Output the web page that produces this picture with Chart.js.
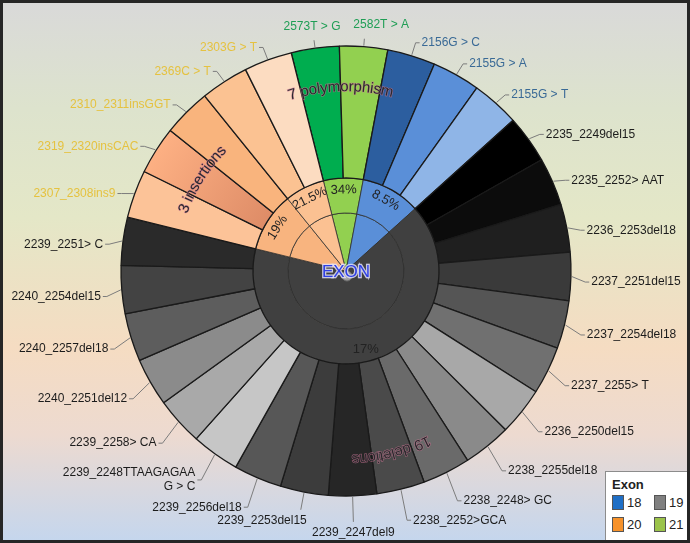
<!DOCTYPE html>
<html>
<head>
<meta charset="utf-8">
<script src="https://cdn.jsdelivr.net/npm/chart.js@4.4.1/dist/chart.umd.min.js"></script>
<style>
  html, body { margin: 0; padding: 0; }
  #wrap {
    position: relative; width: 690px; height: 543px; overflow: hidden;
    font-family: 'Liberation Sans', Arial, sans-serif;
    background: linear-gradient(to bottom, #d9d9d9 0%, #dde3cd 20%, #e4e7c7 40%, #f5dcc2 64%, #eddad0 80%, #c4d6ee 100%);
  }
  #chart { position: absolute; left: 0; top: 0; }
  #frame { position: absolute; left: 0; top: 0; right: 0; bottom: 0; border: 3px solid #262626; pointer-events: none; }
  .legend {
    position: absolute; left: 605px; top: 471px; width: 84px; height: 72px;
    background: #fff; border: 1px solid #8c8c8c; box-sizing: border-box;
    padding: 5px 0 0 6px; font-size: 13px; color: #222;
  }
  .legend .title { font-weight: bold; font-size: 13px; margin-bottom: 3px; }
  .legend .grid { display: grid; grid-template-columns: 13px 25px 13px 18px; column-gap: 2px; row-gap: 7px; align-items: center; }
  .legend .sw { width: 12px; height: 15px; border: 1px solid #555; box-sizing: border-box; }
</style>
</head>
<body>
<div id="wrap">
  <canvas id="chart" width="690" height="543"></canvas>
  <div class="legend"><div class="title">Exon</div><div class="grid" id="legendGrid"></div></div>
  <div id="frame"></div>
</div>
<script>
'use strict';

// ---- data ----
const MUTATIONS = [
  '2573T > G', '2582T > A', '2156G > C', '2155G > A', '2155G > T',
  '2235_2249del15', '2235_2252> AAT', '2236_2253del18', '2237_2251del15', '2237_2254del18',
  '2237_2255> T', '2236_2250del15', '2238_2255del18', '2238_2248> GC', '2238_2252>GCA',
  '2239_2247del9', '2239_2253del15', '2239_2256del18', '2239_2248TTAAGAGAA\nG > C', '2239_2258> CA',
  '2240_2251del12', '2240_2257del18', '2240_2254del15', '2239_2251> C',
  '2307_2308ins9', '2319_2320insCAC', '2310_2311insGGT', '2369C > T', '2303G > T',
];
const MUTATION_EXON = [
  21, 21, 18, 18, 18,
  19, 19, 19, 19, 19, 19, 19, 19, 19, 19, 19, 19, 19, 19, 19, 19, 19, 19, 19,
  20, 20, 20, 20, 20,
];
const MUTATION_COUNT = [
  1, 1, 1, 1, 1,
  1, 1, 1, 1, 1, 1, 1, 1, 1, 1, 1, 1, 1, 1, 1, 1, 1, 1, 1,
  1, 1, 1, 1, 1,
];

const GROUPS = ['Exon 21', 'Exon 18', 'Exon 19', 'Exon 20 insertions', 'Exon 20 polymorphism'];
const GROUP_SIZE = [2, 3, 19, 3, 2];
const GROUP_PCT = ['34%', '8.5%', '17%', '19%', '21.5%'];

const CLASS_LABELS = ['7 polymorphism', '19 deletions', '3 insertions'];
const CLASS_FIRST = [0, 5, 24];
const CLASS_LAST = [1, 23, 26];

const LEGEND_EXONS = ['18', '19', '20', '21'];

// ---- style ----
const MUTATION_COLORS = [
  '#00ad4f', '#92d050', '#2c5e9f', '#5a8fd8', '#8fb5e7',
  '#000000', '#0c0c0c', '#1f1f1f', '#3a3a3a', '#555555', '#707070', '#a8a8a8', '#8a8a8a',
  '#6a6a6a', '#4a4a4a', '#262626', '#3c3c3c', '#575757', '#c6c6c6', '#a9a9a9', '#8b8b8b',
  '#5d5d5d', '#434343', '#2a2a2a',
  '#fcc398', null, '#f9b47d', '#fbc292', '#fcdcc1',
];
const GROUP_COLORS = ['#92d050', '#5a8fd8', '#404040', '#f8b47f', '#fbc192'];
const LABEL_COLORS = { 18: '#3a6a96', 19: '#1c1c1c', 20: '#e5c240', 21: '#1f9e55' };
const LEGEND_COLORS = { 18: '#1f6fc6', 19: '#808080', 20: '#f7922a', 21: '#9bc34a' };
const CLASS_RADIUS = [184, 188, 173];
const FONT = '"Liberation Sans", Arial, sans-serif';

function mutationColor(c) {
  const col = MUTATION_COLORS[c.dataIndex];
  if (col) return col;
  const area = c.chart.chartArea;
  if (!area) return '#f4a479';
  const cx = (area.left + area.right) / 2;
  const cy = (area.top + area.bottom) / 2;
  const g = c.chart.ctx.createRadialGradient(cx, cy, 93, cx, cy, 225);
  g.addColorStop(0, '#de8c67');
  g.addColorStop(1, '#fdb083');
  return g;
}

function drawArcText(ctx, text, cx, cy, r, mid) {
  let a = mid - ctx.measureText(text).width / (2 * r);
  for (const ch of text) {
    const w = ctx.measureText(ch).width;
    const ang = a + w / (2 * r);
    ctx.save();
    ctx.translate(cx + r * Math.cos(ang), cy + r * Math.sin(ang));
    ctx.rotate(ang + Math.PI / 2);
    ctx.strokeText(ch, 0, 0);
    ctx.fillText(ch, 0, 0);
    ctx.restore();
    a += w / r;
  }
}

const sunburstLabels = {
  id: 'sunburstLabels',
  afterDatasetsDraw(chart) {
    const ctx = chart.ctx;
    const outer = chart.getDatasetMeta(0).data;
    const middle = chart.getDatasetMeta(1).data;
    const cx = outer[0].x;
    const cy = outer[0].y;
    ctx.save();

    // leader lines and mutation names
    ctx.font = '12px ' + FONT;
    ctx.textBaseline = 'middle';
    outer.forEach((arc, i) => {
      const mid = (arc.startAngle + arc.endAngle) / 2;
      const R = arc.outerRadius;
      const dx = Math.cos(mid);
      const dy = Math.sin(mid);
      const down = Math.max(0, dy);
      let mode = 'side';
      if (dy < 0 && Math.abs(dx) < 0.15) mode = 'top';
      if (dy > 0 && Math.abs(dx) < 0.2) mode = 'bottom';
      let len = 14 + 12 * down;
      if (mode === 'top') len = 8;
      if (mode === 'bottom') len = Math.abs(dx) < 0.08 ? 26 : 18;
      const bx = cx + dx * (R + len);
      const by = cy + dy * (R + len) + (mode === 'side' ? 6 * down + 5 * dx * dx : 0);
      ctx.strokeStyle = '#7c7c7c';
      ctx.lineWidth = 1;
      ctx.beginPath();
      ctx.moveTo(cx + dx * (R + 1), cy + dy * (R + 1));
      ctx.lineTo(bx, by);
      let tx, ty;
      if (mode === 'top') {
        ctx.stroke();
        if (dx < 0) {
          ctx.textAlign = 'center';
          tx = bx - 2;
        } else {
          ctx.textAlign = 'left';
          tx = bx - 11;
        }
        ty = by - 14;
      } else if (mode === 'bottom') {
        ctx.stroke();
        if (Math.abs(dx) < 0.08) {
          ctx.textAlign = 'center';
          tx = bx;
        } else {
          ctx.textAlign = dx < 0 ? 'right' : 'left';
          tx = bx + (dx < 0 ? 6 : -6);
        }
        ty = by + 11;
      } else {
        const side = dx > 0 ? 1 : -1;
        ctx.lineTo(bx + side * 4, by);
        ctx.stroke();
        ctx.textAlign = side > 0 ? 'left' : 'right';
        tx = bx + side * 6;
        ty = by;
      }
      ctx.fillStyle = LABEL_COLORS[MUTATION_EXON[i]];
      const lines = MUTATIONS[i].split('\n');
      lines.forEach((ln, k) => ctx.fillText(ln, tx, ty + (k - (lines.length - 1) / 2) * 14));
    });

    // group percentages on the exon ring
    ctx.font = '13px ' + FONT;
    ctx.fillStyle = '#222';
    ctx.textAlign = 'center';
    middle.forEach((arc, i) => {
      const mid = (arc.startAngle + arc.endAngle) / 2;
      const span = arc.endAngle - arc.startAngle;
      const r = 81;
      let rot = 0;
      if (span < Math.PI) {
        rot = Math.atan2(Math.sin(mid + Math.PI / 2), Math.cos(mid + Math.PI / 2));
        if (rot > Math.PI / 2) rot -= Math.PI;
        if (rot < -Math.PI / 2) rot += Math.PI;
      }
      ctx.save();
      ctx.translate(cx + r * Math.cos(mid), cy + r * Math.sin(mid));
      ctx.rotate(rot);
      ctx.fillText(GROUP_PCT[i], 0, 0);
      ctx.restore();
    });

    // class names curved along the outer ring
    ctx.font = '15px ' + FONT;
    ctx.fillStyle = '#2a2a2e';
    ctx.strokeStyle = 'rgba(205, 120, 150, 0.7)';
    ctx.lineWidth = 1.1;
    CLASS_LABELS.forEach((txt, k) => {
      const mid = (outer[CLASS_FIRST[k]].startAngle + outer[CLASS_LAST[k]].endAngle) / 2;
      drawArcText(ctx, txt, cx, cy, CLASS_RADIUS[k], mid);
    });

    // centre marker
    ctx.beginPath();
    ctx.arc(cx + 1, cy + 5, 5, 0, Math.PI * 2);
    ctx.fillStyle = '#9c9c9c';
    ctx.fill();
    ctx.strokeStyle = '#6a6a6a';
    ctx.lineWidth = 1;
    ctx.stroke();
    ctx.font = '17px ' + FONT;
    ctx.textAlign = 'center';
    ctx.lineWidth = 2.5;
    ctx.strokeStyle = 'rgba(225, 225, 250, 0.85)';
    ctx.strokeText('EXON', cx, cy + 1);
    ctx.fillStyle = '#2e3fe6';
    ctx.fillText('EXON', cx, cy + 1);
    ctx.restore();
  },
};

new Chart(document.getElementById('chart'), {
  type: 'doughnut',
  data: {
    labels: MUTATIONS,
    datasets: [
      {
        label: 'Mutation',
        data: MUTATION_COUNT,
        backgroundColor: mutationColor,
        borderColor: '#1a1a1a',
        borderWidth: 1.3,
        weight: 132,
      },
      {
        label: 'Exon',
        data: GROUP_SIZE,
        backgroundColor: GROUP_COLORS,
        borderColor: '#2e2e2e',
        borderWidth: 0.8,
        weight: 35,
      },
      {
        label: 'Root',
        data: GROUP_SIZE,
        backgroundColor: GROUP_COLORS,
        borderColor: '#2e2e2e',
        borderWidth: 0.8,
        weight: 58,
      },
    ],
  },
  options: {
    responsive: false,
    animation: false,
    cutout: 0,
    radius: 225,
    rotation: -14.1,
    layout: { padding: { left: 2, right: 0, top: 0, bottom: 1 } },
    plugins: { legend: { display: false }, tooltip: { enabled: false } },
  },
  plugins: [sunburstLabels],
});

// legend
const grid = document.getElementById('legendGrid');
LEGEND_EXONS.forEach((ex) => {
  const sw = document.createElement('span');
  sw.className = 'sw';
  sw.style.background = LEGEND_COLORS[ex];
  const lb = document.createElement('span');
  lb.textContent = ex;
  grid.appendChild(sw);
  grid.appendChild(lb);
});
</script>
</body>
</html>
